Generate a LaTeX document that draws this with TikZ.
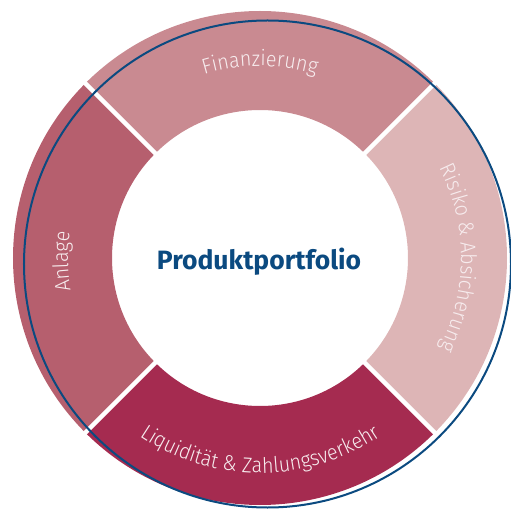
\documentclass[tikz,border=0pt]{standalone}
\usepackage{fontspec}
\setmainfont{Fira Sans}
\newfontfamily\lightfont{Fira Sans Light}[FakeStretch=0.92]
\usetikzlibrary{decorations.text}
\definecolor{finrose}{HTML}{C98A91}
\definecolor{anlrose}{HTML}{B65F6E}
\definecolor{riskrose}{HTML}{DDB5B6}
\definecolor{liqred}{HTML}{A52B50}
\definecolor{portblue}{HTML}{0B4A80}
\definecolor{labeltext}{HTML}{F7ECEE}

\begin{document}
\begin{tikzpicture}[x=1pt,y=1pt,
  gap/.style={draw=white,line width=4.5pt},
  rim/.style={draw=portblue,line width=2pt},
  arclabel/.style={decorate,decoration={text along path,text align=center,
      text={|\lightfont\fontsize{21.5}{21.5}\selectfont\color{labeltext}|#1}}}]
\useasboundingbox (-260,258) rectangle (251,-253);
\def\rin{148}\def\rout{247}
% ring segments
\foreach \a/\col in {45/finrose,135/anlrose,225/liqred,-45/riskrose}
  \fill[\col] (\a:\rout) arc[start angle=\a,end angle=\a+90,radius=\rout]
    -- (\a+90:\rin) arc[start angle=\a+90,end angle=\a,radius=\rin] -- cycle;
\foreach \a in {45,135,225,315}
  \draw[gap] (\a:\rin-8) -- (\a:\rout+8);
% outer blue rim
\draw[rim] (7.5,-6) circle[radius=243.5];
% segment labels
\path[arclabel={Finanzierung}] (135:192) arc[start angle=135,end angle=45,radius=192];
\path[arclabel={Anlage}] (226:192) arc[start angle=226,end angle=136,radius=192];
\path[arclabel={Risiko {\&} Absicherung}] (45:201) arc[start angle=45,end angle=-45,radius=201];
\path[arclabel={Liquidit{ä}t {\&} Zahlungsverkehr}] (225:215) arc[start angle=225,end angle=315,radius=215];
\node[anchor=base,text=portblue,font=\bfseries\fontsize{26.5}{26.5}\selectfont]
  (portfolio) at (-1,-12) {Produktportfolio};
\end{tikzpicture}
\end{document}
